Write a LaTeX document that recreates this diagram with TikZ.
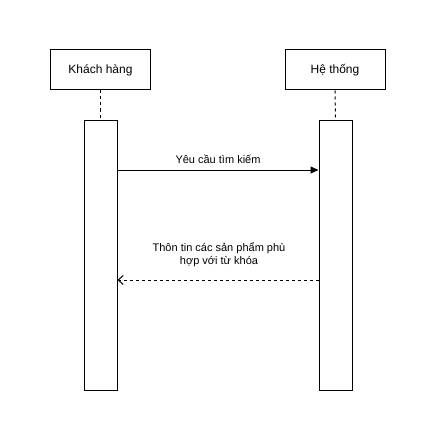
\documentclass[tikz,border=0pt]{standalone}
\usepackage{fontspec}
\setmainfont{Liberation Sans}
\usetikzlibrary{arrows.meta}
\begin{document}
\begin{tikzpicture}[x=1pt,y=-1pt,line width=1pt,
  actor/.style={draw,minimum width=100pt,minimum height=40pt,inner sep=0pt,font=\fontsize{12}{14}\selectfont},
  actbar/.style={draw,minimum width=33pt,minimum height=270pt,inner sep=0pt},
  life/.style={dash pattern=on 3pt off 3pt},
  msg/.style={-{Triangle[length=8pt,width=7pt]}},
  ret/.style={dash pattern=on 3pt off 3pt,-{Straight Barb[length=5pt,width=9pt]}},
  lbl/.style={font=\fontsize{11}{13}\selectfont,align=center,inner sep=0pt}]
\useasboundingbox (0,0) rectangle (436,441);
\node[actor] (kh) at (100.5,70) {Khách hàng};
\node[actor] (ht) at (335,70) {Hệ thống};
\node[actbar] (a1) at (100.5,255) {};
\node[actbar] (a2) at (335.5,255) {};
\draw[life] (kh.south) -- (a1.north);
\draw[life] (ht.south) -- (a2.north);
\coordinate (m1s) at (a1.east |- 0,170);
\coordinate (m1e) at (a2.west |- 0,170);
\draw[msg] (m1s) -- node[lbl,above=6pt] {Yêu cầu tìm kiếm} (m1e);
\coordinate (m2s) at (a2.west |- 0,280);
\coordinate (m2e) at (a1.east |- 0,280);
\draw[ret] (m2s) -- (m2e);
\node[lbl] (l2) at (219,255) {Thôn tin các sản phẩm phù\\hợp với từ khóa};
\end{tikzpicture}
\end{document}
